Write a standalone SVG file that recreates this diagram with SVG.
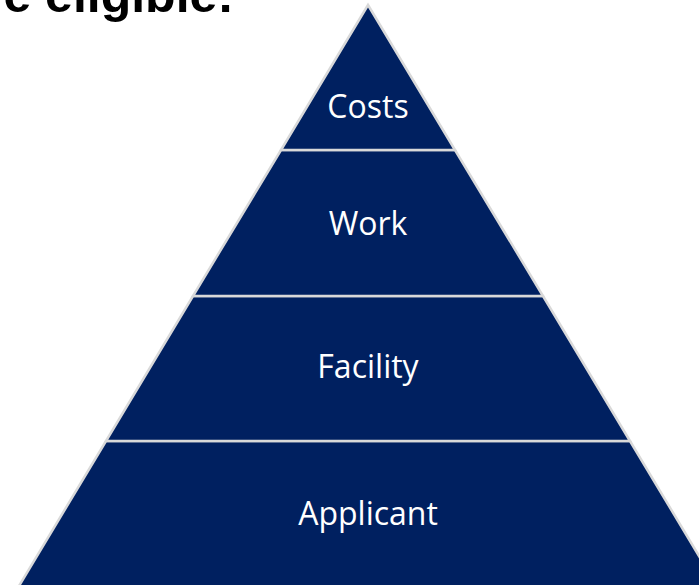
<svg xmlns="http://www.w3.org/2000/svg" width="699" height="585" viewBox="0 0 699 585">
  <style>
    .band { fill: #002060; stroke: #d9d9d9; stroke-width: 2.5; stroke-linejoin: miter; }
    .lbl { font-family: "Open Sans", "Noto Sans", sans-serif; font-size: 32px; fill: #ffffff; text-anchor: middle; }
    .head { font-family: "Liberation Sans", Arial, sans-serif; font-size: 50px; font-weight: bold; fill: #000000; text-anchor: end; }
  </style>
  <rect width="699" height="585" fill="#ffffff"/>
  <text class="head" x="234" y="12">e eligible:</text>
  <g id="applicant">
    <polygon class="band" points="106,441 630,441 723,596 13,596"/>
    <text class="lbl" x="368" y="525">Applicant</text>
  </g>
  <g id="facility">
    <polygon class="band" points="193,296 543,296 630,441 106,441"/>
    <text class="lbl" x="368" y="378">Facility</text>
  </g>
  <g id="work">
    <polygon class="band" points="281,150 455,150 543,296 193,296"/>
    <text class="lbl" x="368" y="235">Work</text>
  </g>
  <g id="costs">
    <polygon class="band" points="368,5 455,150 281,150"/>
    <text class="lbl" x="368" y="118">Costs</text>
  </g>
  <g id="connectors"></g>
</svg>
